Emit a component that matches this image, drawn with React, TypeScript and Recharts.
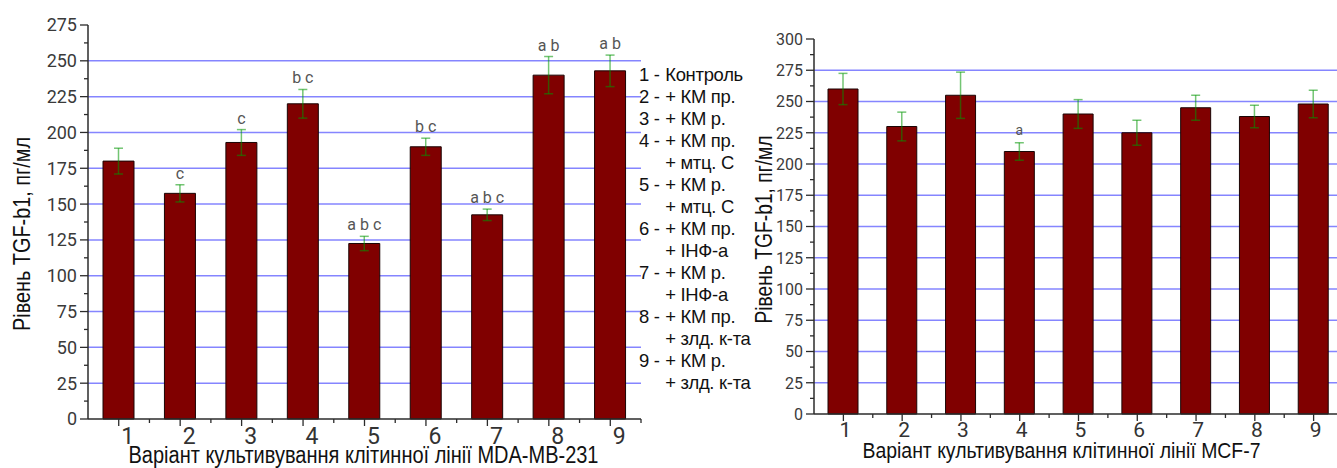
import React from 'react';
import { BarChart, Bar, XAxis, YAxis, CartesianGrid, ErrorBar, Label } from 'recharts';

const categories = ['1', '2', '3', '4', '5', '6', '7', '8', '9'];

const mdaValues = [180, 157.5, 193, 220, 122.5, 190, 142.5, 240, 243];
const mdaErrors = [9, 6, 9, 10, 5, 6, 4, 13, 11];
const mdaLetters = ['', 'c', 'c', 'b c', 'a b c', 'b c', 'a b c', 'a b', 'a b'];

const mcfValues = [260, 230, 255, 210, 240, 225, 245, 238, 248];
const mcfErrors = [12.5, 11.5, 18.5, 7, 11.5, 10, 10, 9, 11];
const mcfLetters = ['', '', '', 'a', '', '', '', '', ''];

const mdaTicks = [0, 12.5, 25, 37.5, 50, 62.5, 75, 87.5, 100, 112.5, 125, 137.5, 150, 162.5, 175, 187.5, 200, 212.5, 225, 237.5, 250, 262.5, 275];
const mdaGrid = [25, 50, 75, 100, 125, 150, 175, 200, 225, 250];
const mcfTicks = [0, 12.5, 25, 37.5, 50, 62.5, 75, 87.5, 100, 112.5, 125, 137.5, 150, 162.5, 175, 187.5, 200, 212.5, 225, 237.5, 250, 262.5, 275, 287.5, 300];
const mcfGrid = [25, 50, 75, 100, 125, 150, 175, 200, 225, 250, 275];

const legendLines = [
  ['1 - ', 'Контроль'],
  ['2 - ', '+ КМ пр.'],
  ['3 - ', '+ КМ р.'],
  ['4 - ', '+ КМ пр.'],
  ['', '+ мтц. С'],
  ['5 - ', '+ КМ р.'],
  ['', '+ мтц. С'],
  ['6 - ', '+ КМ пр.'],
  ['', '+ ІНФ-а'],
  ['7 - ', '+ КМ р.'],
  ['', '+ ІНФ-а'],
  ['8 - ', '+ КМ пр.'],
  ['', '+ злд. к-та'],
  ['9 - ', '+ КМ р.'],
  ['', '+ злд. к-та'],
];

const yTitle = 'Рівень TGF-b1, пг/мл';
const mdaXTitle = 'Варіант культивування клітинної лінії MDA-MB-231';
const mcfXTitle = 'Варіант культивування клітинної лінії MCF-7';

const mdaData = categories.map((name, i) => ({ name, value: mdaValues[i], err: mdaErrors[i], letter: mdaLetters[i] }));
const mcfData = categories.map((name, i) => ({ name, value: mcfValues[i], err: mcfErrors[i], letter: mcfLetters[i] }));

const TICK_FONT = 'Roboto, "Liberation Sans", Arial, sans-serif';
const NARROW_FONT = '"Liberation Sans Narrow", "Liberation Sans", Arial, sans-serif';
const AXIS = '#2b2b2b';

function makeYTick(fontSize: number) {
  return (props: any) => {
    const { x, y, payload } = props;
    const major = payload.value % 25 === 0;
    return (
      <g>
        <line x1={x - (major ? 8 : 4)} x2={x} y1={y} y2={y} stroke={AXIS} strokeWidth={1.3} />
        {major && (
          <text x={x - 11} y={y + fontSize * 0.36} textAnchor="end" fontSize={fontSize} fill="#3a3a3a" fontFamily={TICK_FONT}>
            {payload.value}
          </text>
        )}
      </g>
    );
  };
}

function makeXTick(fontSize: number, dx: number, dy: number) {
  return (props: any) => {
    const { x, y, payload } = props;
    const off = payload.offset ?? 30;
    return (
      <g>
        <line x1={x} x2={x} y1={y} y2={y + 7} stroke={AXIS} strokeWidth={1.3} />
        <line x1={x + off} x2={x + off} y1={y} y2={y + 4} stroke={AXIS} strokeWidth={1.3} />
        <text x={x + dx} y={y + dy} textAnchor="middle" fontSize={fontSize} fill="#333" fontFamily={TICK_FONT}>
          {payload.value}
        </text>
      </g>
    );
  };
}

function makeLetters(data: any[], fontSize: number, gap: number) {
  return (props: any) => {
    const vb = props.viewBox ?? props;
    const x = props.x ?? vb.x;
    const y = props.y ?? vb.y;
    const width = props.width ?? vb.width;
    const height = props.height ?? vb.height;
    const d = data[props.index];
    if (!d || !d.letter) return null;
    const errTop = y - (d.err * height) / d.value;
    return (
      <text x={x + width / 2} y={errTop - gap} textAnchor="middle" fontSize={fontSize} fill="#555" fontFamily={TICK_FONT}>
        {d.letter}
      </text>
    );
  };
}

function yTitleContent(dx: number, dy: number, fontSize: number, len: number) {
  return (props: any) => {
    const vb = props.viewBox;
    const cx = vb.x + dx;
    const cy = vb.y + vb.height / 2 + dy;
    return (
      <text x={cx} y={cy} transform={`rotate(-90 ${cx} ${cy})`} textAnchor="middle" dominantBaseline="central"
        fontSize={fontSize} fill="#111" fontFamily={NARROW_FONT} textLength={len} lengthAdjust="spacingAndGlyphs">
        {yTitle}
      </text>
    );
  };
}

function xTitleContent(text: string, dx: number, y: number, fontSize: number, len: number) {
  return (props: any) => {
    const vb = props.viewBox;
    const cx = vb.x + vb.width / 2 + dx;
    return (
      <text x={cx} y={y} textAnchor="middle" fontSize={fontSize} fill="#111" fontFamily={NARROW_FONT}
        textLength={len} lengthAdjust="spacingAndGlyphs">
        {text}
      </text>
    );
  };
}

export default function App() {
  return (
    <div style={{ position: 'absolute', left: 0, top: 0, width: 1337, height: 468, overflow: 'hidden', background: '#fff' }}>
      <div style={{ position: 'absolute', left: 0, top: 0 }}>
        <BarChart width={660} height={468} data={mdaData} margin={{ top: 25, right: 19, left: 0, bottom: 0 }}>
          <CartesianGrid horizontal vertical={false} horizontalValues={mdaGrid} stroke="#8585ff" strokeWidth={1.5} />
          <XAxis dataKey="name" height={49} tickSize={0} tickMargin={0} tickLine={false}
            axisLine={{ stroke: AXIS, strokeWidth: 1.5 }} tick={makeXTick(23, 9, 25)} interval={0}>
            <Label content={xTitleContent(mdaXTitle, -1, 463, 23, 470)} />
          </XAxis>
          <YAxis width={88} domain={[0, 275]} ticks={mdaTicks} interval={0} tickSize={0} tickMargin={0} tickLine={false}
            axisLine={{ stroke: AXIS, strokeWidth: 1.5 }} tick={makeYTick(18)}>
            <Label content={yTitleContent(21, 12, 24, 194)} />
          </YAxis>
          <Bar dataKey="value" fill="#800000" stroke="#1a0505" strokeWidth={1} barSize={31} isAnimationActive={false}
            label={makeLetters(mdaData, 16, 6)}>
            <ErrorBar dataKey="err" width={4.5} stroke="rgba(0,150,0,0.55)" strokeWidth={1.5} direction="y" isAnimationActive={false} />
          </Bar>
        </BarChart>
      </div>
      <div style={{ position: 'absolute', left: 639, top: 64, fontFamily: NARROW_FONT, fontSize: 19, lineHeight: '22px', color: '#111',
        whiteSpace: 'pre', transform: 'scaleX(0.97)', transformOrigin: '0 0', letterSpacing: -0.3 }}>
        {legendLines.map((l, i) => (
          <div key={i} style={{ display: 'flex' }}>
            <span style={{ display: 'inline-block', width: 27 }}>{l[0]}</span>
            <span>{l[1]}</span>
          </div>
        ))}
      </div>
      <div style={{ position: 'absolute', left: 680, top: 0 }}>
        <BarChart width={670} height={468} data={mcfData} margin={{ top: 39, right: 7, left: 0, bottom: 0 }}>
          <CartesianGrid horizontal vertical={false} horizontalValues={mcfGrid} stroke="#8585ff" strokeWidth={1.5} />
          <XAxis dataKey="name" height={54} tickSize={0} tickMargin={0} tickLine={false}
            axisLine={{ stroke: AXIS, strokeWidth: 1.5 }} tick={makeXTick(21, 2, 23)} interval={0}>
            <Label content={xTitleContent(mcfXTitle, -17, 458, 22, 398)} />
          </XAxis>
          <YAxis width={134} domain={[0, 300]} ticks={mcfTicks} interval={0} tickSize={0} tickMargin={0} tickLine={false}
            axisLine={{ stroke: AXIS, strokeWidth: 1.5 }} tick={makeYTick(16)}>
            <Label content={yTitleContent(83, 3, 24, 188)} />
          </YAxis>
          <Bar dataKey="value" fill="#800000" stroke="#1a0505" strokeWidth={1} barSize={30} isAnimationActive={false}
            label={makeLetters(mcfData, 14, 8)}>
            <ErrorBar dataKey="err" width={4.5} stroke="rgba(0,150,0,0.55)" strokeWidth={1.5} direction="y" isAnimationActive={false} />
          </Bar>
        </BarChart>
      </div>
    </div>
  );
}
